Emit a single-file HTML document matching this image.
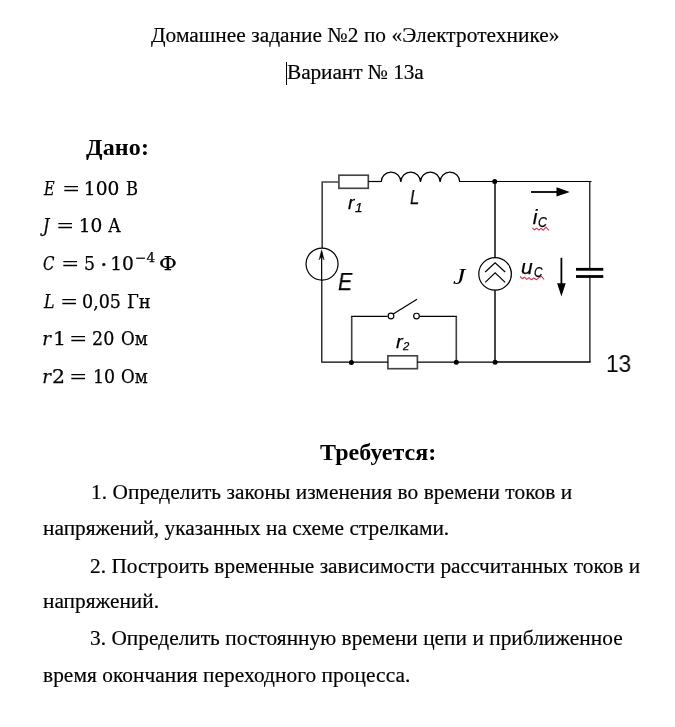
<!DOCTYPE html>
<html lang="ru">
<head>
<meta charset="utf-8">
<title>Домашнее задание №2 по «Электротехнике»</title>
<style>
  html, body { margin: 0; padding: 0; background: #fff; }
  body { width: 675px; height: 727px; position: relative; overflow: hidden;
         font-family: "Liberation Serif", serif; color: #000; }
  p, h2 { will-change: transform; }
  .ln { position: absolute; white-space: nowrap; font-size: 21.33px; line-height: 24px; margin: 0; -webkit-text-stroke: 0.18px #000; }
  .hd { position: absolute; white-space: nowrap; font-size: 24px; line-height: 28px; font-weight: bold; margin: 0; }
  .eq { position: absolute; left: 0; top: 0; margin: 0; white-space: nowrap;
        font-family: "DejaVu Serif", "Liberation Serif", serif; font-size: 18.6px; line-height: 24px; -webkit-text-stroke: 0.25px #000; }
  .eq i, .eq span { position: absolute; display: block; transform-origin: 0 0; }
  .eq i { font-style: italic; }
  .eq .q { -webkit-text-stroke: 0; }
  .caret { position: absolute; left: 286px; top: 62px; width: 1px; height: 23px; background: #000; }
  svg { position: absolute; left: 0; top: 0; }
  .lb { position: absolute; left: 0; top: 0; margin: 0; white-space: nowrap; line-height: 0;
        font-family: "Liberation Sans", sans-serif; will-change: transform; -webkit-text-stroke: 0.25px #000; }
  .lb i, .lb span { position: absolute; display: block; transform-origin: 0 0; font-style: italic; }
  .lb .sf { font-family: "Liberation Serif", serif; -webkit-text-stroke: 0; }
  .lb .up { font-style: normal; -webkit-text-stroke: 0; }
</style>
</head>
<body>

<p class="ln" style="left:151.2px; top:23.4px; letter-spacing:0.05px;">Домашнее задание №2 по «Электротехнике»</p>
<p class="ln" style="left:287.2px; top:60px; letter-spacing:-0.08px;">Вариант № 13а</p>
<div class="caret"></div>

<h2 class="hd" style="left:85.5px; top:133.3px; letter-spacing:0.15px;">Дано:</h2>

<p class="eq"><i style="left:44.05px;top:177.20px;font-size:18.2px;transform:scaleX(0.800);">E</i> <span class="q" style="left:61.75px;top:177.06px;font-size:18.6px;transform:scaleX(1.174);">=</span> <span style="left:83.84px;top:177.06px;font-size:18.6px;">100</span> <span style="left:125.90px;top:177.20px;font-size:18.2px;transform:scaleX(0.898);">В</span></p>
<p class="eq"><i style="left:43.35px;top:214.30px;font-size:18.2px;transform:scaleX(0.882);">J</i> <span class="q" style="left:56.35px;top:214.16px;font-size:18.6px;transform:scaleX(1.174);">=</span> <span style="left:78.64px;top:214.16px;font-size:18.6px;">10</span> <span style="left:107.57px;top:214.30px;font-size:18.2px;transform:scaleX(0.933);">А</span></p>
<p class="eq"><i style="left:43.28px;top:252.00px;font-size:18.2px;transform:scaleX(0.824);">C</i> <span class="q" style="left:61.41px;top:251.86px;font-size:18.6px;transform:scaleX(1.180);">=</span> <span style="left:83.90px;top:251.86px;font-size:18.6px;transform:scaleX(0.933);">5</span> <span style="left:99.73px;top:252.04px;font-size:23px;transform:scaleX(1.055);">·</span> <span style="left:110.13px;top:251.86px;font-size:18.6px;">10</span> <span style="left:134.64px;top:246.18px;font-size:12.5px;transform:scaleX(1.091);">−4</span> <span style="left:159.45px;top:252.00px;font-size:18.2px;transform:scaleX(1.180);">Ф</span></p>
<p class="eq"><i style="left:44.12px;top:290.10px;font-size:18.2px;transform:scaleX(0.871);">L</i> <span class="q" style="left:59.65px;top:289.96px;font-size:18.6px;transform:scaleX(1.174);">=</span> <span style="left:82.32px;top:289.96px;font-size:18.6px;transform:scaleX(0.942);">0,05</span> <span style="left:126.62px;top:290.10px;font-size:18.2px;transform:scaleX(0.984);">Гн</span></p>
<p class="eq"><i style="left:42.16px;top:327.30px;font-size:18.2px;">r</i> <span style="left:52.52px;top:327.16px;font-size:18.6px;transform:scaleX(1.100);">1</span> <span class="q" style="left:69.45px;top:327.16px;font-size:18.6px;transform:scaleX(1.180);">=</span> <span style="left:92.42px;top:327.16px;font-size:18.6px;transform:scaleX(0.941);">20</span> <span style="left:121.48px;top:327.30px;font-size:18.2px;transform:scaleX(0.920);">Ом</span></p>
<p class="eq"><i style="left:42.16px;top:365.10px;font-size:18.2px;">r</i> <span style="left:52.36px;top:364.96px;font-size:18.6px;transform:scaleX(1.100);">2</span> <span class="q" style="left:69.45px;top:364.96px;font-size:18.6px;transform:scaleX(1.180);">=</span> <span style="left:92.60px;top:364.96px;font-size:18.6px;transform:scaleX(0.933);">10</span> <span style="left:121.48px;top:365.10px;font-size:18.2px;transform:scaleX(0.920);">Ом</span></p>

<h2 class="hd" style="left:320.1px; top:438.1px; letter-spacing:0.06px;">Требуется:</h2>

<p class="ln" style="left:90.5px; top:479.5px; letter-spacing:0.05px;">1. Определить законы изменения во времени токов и</p>
<p class="ln" style="left:42.9px; top:516px; letter-spacing:0.02px;">напряжений, указанных на схеме стрелками.</p>
<p class="ln" style="left:89.6px; top:553.5px; letter-spacing:0.02px;">2. Построить временные зависимости рассчитанных токов и</p>
<p class="ln" style="left:42.5px; top:589.2px;">напряжений.</p>
<p class="ln" style="left:89.7px; top:626.3px; letter-spacing:0.035px;">3. Определить постоянную времени цепи и приближенное</p>
<p class="ln" style="left:43px; top:663.3px; letter-spacing:0.065px;">время окончания переходного процесса.</p>

<svg width="675" height="727" viewBox="0 0 675 727">
  <!-- soft (resampled) strokes -->
  <g fill="none" stroke="#444" stroke-width="1.65">
    <path d="M338.9 182 H322.2 V248.2"/>
    <rect x="338.9" y="175.2" width="29.4" height="13.1"/>
    <rect x="387.9" y="355.8" width="29.5" height="12.9"/>
    <path d="M351.7 362 V316.4"/>
    <path d="M456.3 316.4 V362"/>
    <path d="M495 181.5 V257.5" stroke="#222"/>
    <path d="M495 290.3 V362" stroke="#222"/>
  </g>
  <g fill="none" stroke="#000" stroke-width="1.2">
    <!-- left loop -->
    <path d="M321.8 280 V362.1 H387.9"/>
    <path d="M368.3 181.5 H381.2"/>
    <!-- inductor -->
    <path d="M381.2 181.9 a9.82 9.8 0 0 1 19.64 0 a9.82 9.8 0 0 1 19.64 0 a9.82 9.8 0 0 1 19.64 0 a9.82 9.8 0 0 1 19.64 0"/>
    <path d="M459.7 181.5 H591.5"/>
    <!-- bottom -->
    <path d="M417.4 362.1 H495"/>
    <path d="M495 362 H590.6" stroke-width="1.5"/>
    <!-- switch branch -->
    <path d="M351.2 316.4 H387.6"/>
    <path d="M419.7 316.4 H456.8"/>
    <circle cx="391" cy="316" r="2.85" fill="#fff"/>
    <circle cx="416.5" cy="316.1" r="2.85" fill="#fff"/>
    <path d="M393.2 314 L417 299.3"/>
    <!-- J source -->
    <circle cx="495.1" cy="273.9" r="16.3"/>
    <path d="M485.2 272 L495.1 262.7 L505.2 272"/>
    <path d="M485.2 282.4 L495.1 272.8 L505.2 282.4"/>
    <!-- right branch -->
    <path d="M589.8 181.5 V268.5"/>
    <path d="M589.9 277.5 V362"/>
  </g>
  <g fill="none" stroke="#000" stroke-width="1.2">
    <circle cx="322.05" cy="264.1" r="16"/>
    <path d="M321.65 252 V280"/>
    <path d="M321.6 249.8 L324.2 260 L321.6 256.6 L319 260 Z" fill="#000" stroke-width="0.4"/>
  </g>
  <!-- capacitor -->
  <g stroke="#000" stroke-width="2.8">
    <path d="M576 269.3 H603.3"/>
    <path d="M576 276.5 H603.3"/>
  </g>
  <!-- nodes -->
  <g fill="#000">
    <circle cx="494.7" cy="181.6" r="2.5"/>
    <circle cx="351.4" cy="362.4" r="2.5"/>
    <circle cx="456.3" cy="362.2" r="2.5"/>
    <circle cx="495.1" cy="362.2" r="2.5"/>
  </g>
  <!-- arrows -->
  <g stroke="#000" stroke-width="1.8" fill="#000">
    <path d="M531 192 H558"/>
    <path d="M556.5 187.2 L569.8 191.9 L556.5 196.6 Z" stroke="none"/>
    <path d="M561.4 257.8 V285"/>
    <path d="M557.1 283.2 L561.4 296.5 L565.7 283.2 Z" stroke="none"/>
  </g>
  <!-- red squiggles -->
  <g fill="none" stroke="#d9304a" stroke-width="1.1" stroke-linejoin="round">
    <path d="M532.4 227.9 L534.4 229.8 L536.6 228.2 L538.9 230.1 L541 228.4 L543.3 230.2 L546 227.2 L549 230.5"/>
    <path d="M520 276.5 L522.2 278.7 L524.4 277.2 L526.7 279.4 L528.9 277.6 L531.5 279.8 L533.7 278 L536.3 279.8 L538.9 277.6 L541.5 276.4 L544.1 279.5"/>
  </g>
</svg>

<!--LABELS-->
<div class="lb"><i style="left:347.82px;top:203.41px;font-size:18.49px;transform:scaleX(1.034);">r</i><i style="left:355.28px;top:207.99px;font-size:12.03px;transform:scaleX(1.120);">1</i></div>
<div class="lb"><i style="left:409.69px;top:196.70px;font-size:20.87px;transform:scaleX(0.800);">L</i></div>
<div class="lb"><i style="left:337.66px;top:282.21px;font-size:23.84px;transform:scaleX(0.897);">E</i></div>
<div class="lb"><i class="sf" style="left:452.75px;top:276.32px;font-size:23.18px;transform:scaleX(1.200);">J</i></div>
<div class="lb"><i style="left:532.68px;top:217.16px;font-size:20.96px;">i</i><i style="left:538.26px;top:221.98px;font-size:14.23px;transform:scaleX(0.871);">C</i></div>
<div class="lb"><i style="left:520.56px;top:266.93px;font-size:19.63px;transform:scaleX(1.070);">u</i><i style="left:533.69px;top:271.78px;font-size:14.23px;transform:scaleX(0.829);">C</i></div>
<div class="lb"><i style="left:395.60px;top:341.72px;font-size:19.06px;transform:scaleX(1.050);">r</i><i style="left:403.40px;top:346.30px;font-size:11.71px;transform:scaleX(0.964);">2</i></div>
<div class="lb"><span class="up" style="left:606.19px;top:363.78px;font-size:23.38px;transform:scaleX(0.968);">13</span></div>
<!--/LABELS-->

</body>
</html>
